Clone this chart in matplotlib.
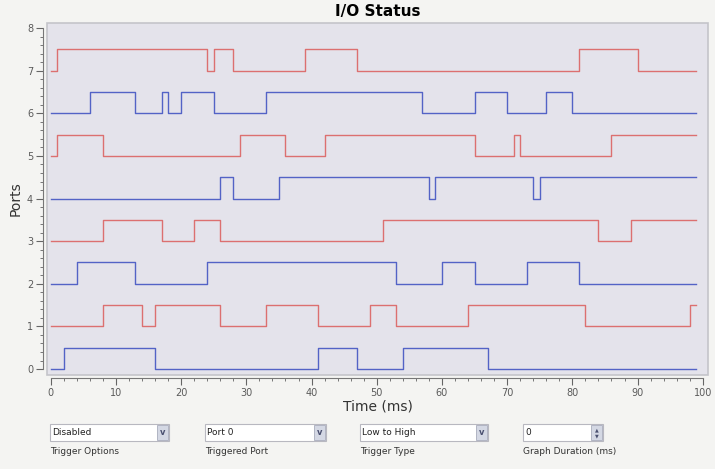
import matplotlib
matplotlib.use("Agg")
import matplotlib.pyplot as plt
from matplotlib.patches import Rectangle
from matplotlib.ticker import MultipleLocator

# Transition times (ms) of each port, every port starts low
port_edges = {
    0: [2, 16, 41, 47, 54, 67],
    1: [8, 14, 16, 26, 33, 41, 49, 53, 64, 82, 98],
    2: [4, 13, 24, 53, 60, 65, 73, 81],
    3: [8, 17, 22, 26, 51, 84, 89],
    4: [26, 28, 35, 58, 59, 74, 75],
    5: [1, 8, 29, 36, 42, 65, 71, 72, 86],
    6: [6, 13, 17, 18, 20, 25, 33, 57, 65, 70, 76, 80],
    7: [1, 24, 25, 28, 39, 47, 81, 90],
}
t_end = 99
high_level = 0.5

# bottom controls: (value, caption)
controls = [("Disabled", "Trigger Options"),
            ("Port 0", "Triggered Port"),
            ("Low to High", "Trigger Type"),
            ("0", "Graph Duration (ms)")]

red = "#dc7070"
blue = "#5363c6"
gray_txt = "#5a5a5a"

fig = plt.figure(figsize=(7.15, 4.69), dpi=100)
fig.patch.set_facecolor("#f4f4f2")

W, H = 715, 469
ax = fig.add_axes([47 / W, 1 - 375 / H, (708 - 47) / W, (375 - 23) / H])
ax.set_facecolor("#e4e3eb")

for port, edges in port_edges.items():
    times = [0] + edges + [t_end]
    states = []
    s = 0
    states.append(s)
    for e in edges:
        s = 1 - s
        states.append(s)
    states.append(s)
    ys = [port + high_level * v for v in states]
    color = blue if port % 2 == 0 else red
    ax.step(times, ys, where="post", color=color, lw=1.0)

ax.set_xlim(-0.57, 100.8)
ax.set_ylim(-0.14, 8.12)

ax.xaxis.set_major_locator(MultipleLocator(10))
ax.xaxis.set_minor_locator(MultipleLocator(2))
ax.yaxis.set_major_locator(MultipleLocator(1))
ax.yaxis.set_minor_locator(MultipleLocator(0.2))

for side in ["top", "right"]:
    ax.spines[side].set_visible(False)
ax.spines["left"].set_position(("outward", 3))
ax.spines["bottom"].set_position(("outward", 2.2))
ax.spines["left"].set_bounds(0, 8)
ax.spines["bottom"].set_bounds(0, 100)
for side in ["left", "bottom"]:
    ax.spines[side].set_color("#777777")
    ax.spines[side].set_linewidth(0.8)

ax.add_patch(Rectangle((0, 0), 1, 1, transform=ax.transAxes, fill=False,
                       edgecolor="#c4c4ca", lw=1.2, clip_on=False))

ax.tick_params(which="major", length=5, width=0.8, color="#666666",
               labelsize=7, labelcolor=gray_txt, pad=2)
ax.tick_params(which="minor", length=2.5, width=0.7, color="#777777")

ax.set_title("I/O Status", fontsize=11, fontweight="bold", pad=5)
ax.set_xlabel("Time (ms)", fontsize=10, color="#333333", labelpad=1)
ax.set_ylabel("Ports", fontsize=10, color="#333333", labelpad=3)

# control widgets drawn on an overlay in pixel coordinates
ov = fig.add_axes([0, 0, 1, 1])
ov.set_xlim(0, W)
ov.set_ylim(H, 0)
ov.axis("off")

box_x = [(50, 169), (205, 326), (360, 488), (523, 603)]
for i, ((val, cap), (x0, x1)) in enumerate(zip(controls, box_x)):
    ov.add_patch(Rectangle((x0, 424), x1 - x0, 17, facecolor="white",
                           edgecolor="#b8b8c0", lw=0.8))
    ov.add_patch(Rectangle((x1 - 12, 425), 11, 15, facecolor="#d4d8e4",
                           edgecolor="#a8acbc", lw=0.6))
    if i < 3:
        ov.text(x1 - 6.5, 432.5, "v", fontsize=6, fontweight="bold",
                color="#4a5070", ha="center", va="center")
    else:
        ov.text(x1 - 6.5, 429.5, "▲", fontsize=3.5, color="#4a5070",
                ha="center", va="center")
        ov.text(x1 - 6.5, 436, "▼", fontsize=3.5, color="#4a5070",
                ha="center", va="center")
    ov.text(x0 + 2, 432.5, val, fontsize=6.5, color="#222222",
            ha="left", va="center")
    ov.text(x0, 452, cap, fontsize=6.5, color="#333333",
            ha="left", va="center")

fig.savefig("out.png", dpi=100, facecolor=fig.get_facecolor())
